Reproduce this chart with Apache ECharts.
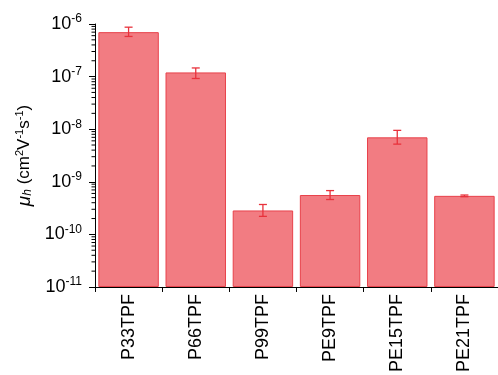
<!DOCTYPE html>
<html><head><meta charset="utf-8">
<script src="https://cdn.jsdelivr.net/npm/echarts@6/dist/echarts.min.js"></script>
<style>html,body{margin:0;padding:0;background:#fff}#c{width:498px;height:375px}</style>
</head><body><div id="c"></div>
<script>
const categories = ['P33TPF','P66TPF','P99TPF','PE9TPF','PE15TPF','PE21TPF'];
const mobility = [7.0e-7, 1.2e-7, 2.85e-10, 5.6e-10, 7.0e-9, 5.4e-10];
const errLow  = [5.8e-7, 9.2e-8, 2.2e-10, 4.6e-10, 5.2e-9, 5.2e-10];
const errHigh = [8.7e-7, 1.46e-7, 3.7e-10, 6.8e-10, 9.5e-9, 5.6e-10];
const yMin = 1e-11, yMax = 1e-6;
const minorTicks = [];
for (let e = -11; e < -6; e++) for (let m = 2; m <= 9; m++) minorTicks.push(m * Math.pow(10, e));

const chart = echarts.init(document.getElementById('c'));
const font = 'Liberation Sans, Arial, sans-serif';
chart.setOption({
  animation: false,
  grid: {left: 95, top: 24, bottom: 84, right: -11, containLabel: false},
  xAxis: {
    type: 'category', data: categories,
    axisLine: {lineStyle: {color: '#000', width: 1}},
    axisTick: {show: true, alignWithLabel: false, length: 5, lineStyle: {color: '#000'}},
    axisLabel: {rotate: 90, margin: 7, fontSize: 18, color: '#000', fontFamily: font}
  },
  yAxis: {
    type: 'log', logBase: 10, min: yMin, max: yMax, interval: 1,
    splitLine: {show: false},
    axisLine: {show: true, lineStyle: {color: '#000', width: 1}},
    axisTick: {show: true, length: 6, lineStyle: {color: '#000'}},
    axisLabel: {
      margin: 13, color: '#000', fontFamily: font,
      formatter: v => '{b|10}{s|' + Math.round(Math.log10(v)) + '}',
      rich: {b: {fontSize: 18, fontFamily: font, color: '#000'},
             s: {fontSize: 12, fontFamily: font, color: '#000', padding: [0, 0, 10, 0]}}
    },
    name: '{i|μ}{sub|h}{n| (cm}{sup|2}{n|V}{sup|-1}{n|s}{sup|-1}{n|)}',
    nameLocation: 'middle', nameRotate: 90, nameGap: 55,
    nameTextStyle: {
      rich: {
        i: {fontSize: 19, fontStyle: 'italic', fontFamily: font, color: '#000'},
        sub: {fontSize: 12, fontStyle: 'italic', fontFamily: font, color: '#000', padding: [6, 0, 0, 0]},
        n: {fontSize: 17, fontFamily: font, color: '#000'},
        sup: {fontSize: 11, fontFamily: font, color: '#000', padding: [0, 0, 9, 0]}
      }
    }
  },
  series: [
    {
      type: 'custom', data: categories.map((c, i) => [i, mobility[i]]),
      renderItem: (params, api) => {
        const top = api.coord([api.value(0), api.value(1)]);
        const base = api.coord([api.value(0), yMin]);
        const bw = api.size([1, 0])[0] * 0.9;
        return {type: 'rect',
          shape: {x: top[0] - bw / 2 + 0.5, y: top[1] + 0.5, width: bw - 1, height: base[1] - top[1] - 1},
          style: {fill: '#f27c82', stroke: '#e8424b', lineWidth: 1}};
      },
      z: 2
    },
    {
      type: 'custom', data: categories.map((c, i) => [i, errLow[i], errHigh[i]]),
      renderItem: (params, api) => {
        const lo = api.coord([api.value(0), api.value(1)]);
        const hi = api.coord([api.value(0), api.value(2)]);
        const w = 4;
        const st = {stroke: '#e8323c', lineWidth: 1.3};
        return {type: 'group', children: [
          {type: 'line', shape: {x1: lo[0], y1: lo[1], x2: hi[0], y2: hi[1]}, style: st},
          {type: 'line', shape: {x1: lo[0] - w, y1: lo[1], x2: lo[0] + w, y2: lo[1]}, style: st},
          {type: 'line', shape: {x1: hi[0] - w, y1: hi[1], x2: hi[0] + w, y2: hi[1]}, style: st}
        ]};
      },
      z: 5
    },
    {
      type: 'custom', data: minorTicks.map(v => [0, v]),
      renderItem: (params, api) => {
        const p = api.coord([0, api.value(1)]);
        const x0 = params.coordSys.x;
        return {type: 'line', shape: {x1: x0 - 3.5, y1: p[1], x2: x0, y2: p[1]},
                style: {stroke: '#000', lineWidth: 1}};
      },
      clip: false, silent: true, z: 6
    }
  ]
});
</script></body></html>
